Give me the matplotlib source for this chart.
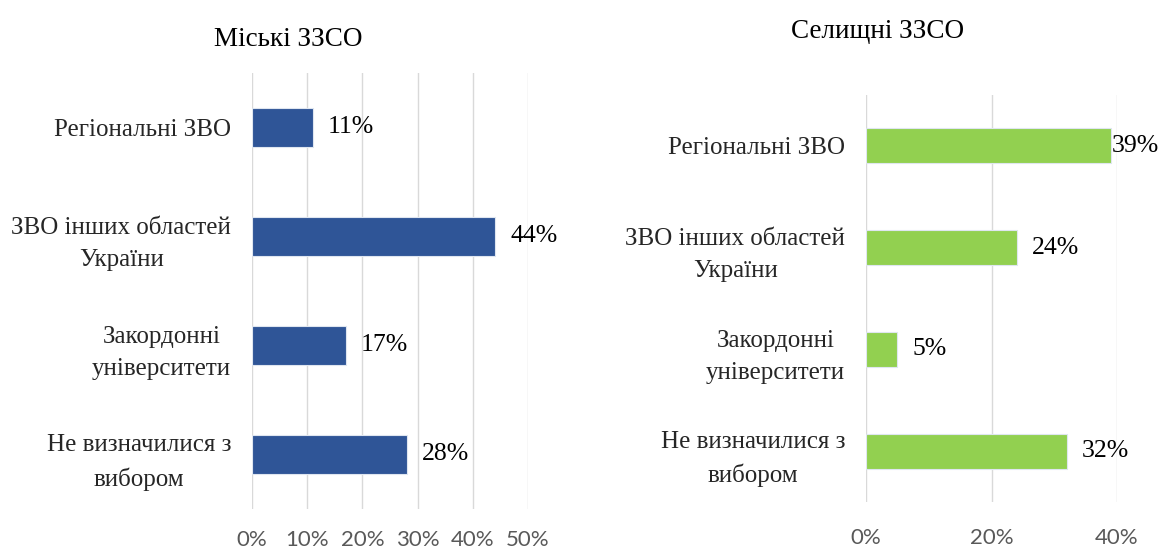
import matplotlib
matplotlib.use("Agg")
import matplotlib.pyplot as plt
from matplotlib.ticker import FuncFormatter, MultipleLocator

categories = ["Регіональні ЗВО", "ЗВО інших областей\nУкраїни",
              "Закордонні\nуніверситети", "Не визначилися з\nвибором"]
urban_values = [0.11, 0.44, 0.17, 0.28]
rural_values = [0.39, 0.24, 0.05, 0.32]
urban_labels = ["11%", "44%", "17%", "28%"]
rural_labels = ["39%", "24%", "5%", "32%"]
urban_title = "Міські ЗЗСО"
rural_title = "Селищні ЗЗСО"

W, H = 1161, 549
fig = plt.figure(figsize=(W / 100, H / 100), dpi=100)
fig.patch.set_facecolor("white")

serif = ["Liberation Serif", "DejaVu Serif"]
tick_font = ["Lato", "DejaVu Sans"]


def px_axes(l, r, t, b):
    return fig.add_axes([l / W, 1 - b / H, (r - l) / W, (b - t) / H])


def draw(ax, values, labels, color, xmax, step, bar_h, pad_pt, offsets):
    y = list(range(len(categories)))
    ax.barh(y, values, height=bar_h, color=color, edgecolor="#dfe6f0",
            linewidth=0.8, zorder=3)
    ax.set_ylim(len(categories) - 0.5, -0.5)
    ax.set_xlim(0, xmax)
    ax.xaxis.set_major_locator(MultipleLocator(step))
    ax.xaxis.set_major_formatter(FuncFormatter(lambda v, p: f"{v*100:.0f}%"))
    ax.grid(axis="x", color="#d9d9d9", linewidth=1.0, zorder=0)
    for s in ax.spines.values():
        s.set_visible(False)
    ax.set_yticks(y)
    ax.set_yticklabels(categories, fontfamily=serif, fontsize=18,
                       color="#262626", multialignment="center",
                       linespacing=1.6)
    ax.tick_params(axis="y", length=0, pad=15)
    ax.tick_params(axis="x", length=0, pad=pad_pt, labelsize=16,
                   labelcolor="#595959")
    for t in ax.get_xticklabels():
        t.set_fontfamily(tick_font)
    for yi, v, lab, off in zip(y, values, labels, offsets):
        ax.annotate(lab, xy=(v, yi), xytext=(off, 0), textcoords="offset points",
                    ha="left", va="center", fontfamily=serif, fontsize=18.5,
                    color="#000000")


ax1 = px_axes(252, 528, 72.7, 509)
draw(ax1, urban_values, urban_labels, "#2f5597", 0.5, 0.1, 0.355, 15,
     [11, 11, 11, 11])

ax2 = px_axes(866, 1117, 95, 502)
draw(ax2, rural_values, rural_labels, "#92d050", 0.4, 0.2, 0.345, 19,
     [1, 11, 11, 11])

fig.text(288 / W, 1 - 40 / H, urban_title, ha="center", va="center",
         fontfamily=serif, fontsize=19.5, color="#000000")
fig.text(878 / W, 1 - 31 / H, rural_title, ha="center", va="center",
         fontfamily=serif, fontsize=19.5, color="#000000")

fig.savefig("out.png", dpi=100, facecolor="white")
